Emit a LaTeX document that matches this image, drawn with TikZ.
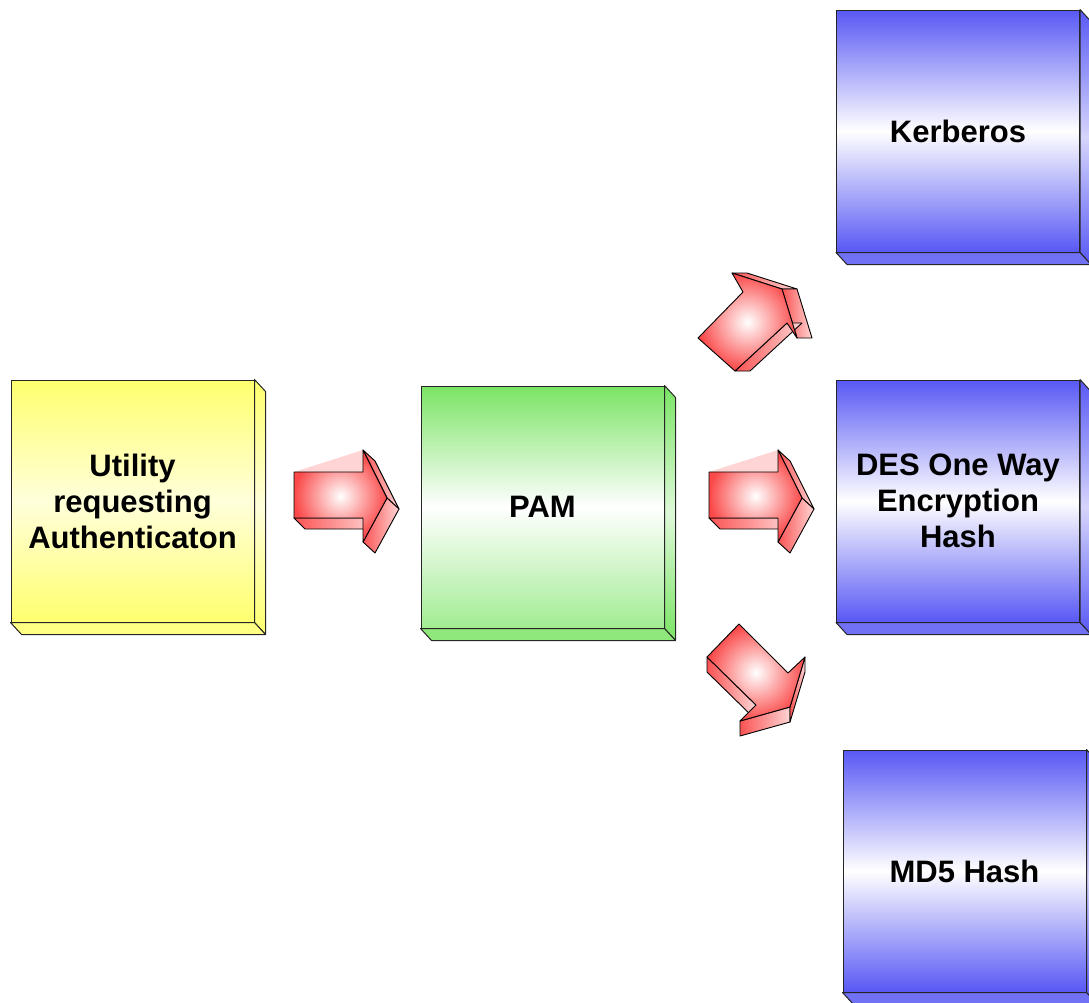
\documentclass[tikz,border=0pt]{standalone}
\usepackage{fontspec}
\setmainfont{Liberation Sans}
\usetikzlibrary{calc}

\definecolor{utilyellow}{RGB}{255,255,110}
\definecolor{pamgreen}{RGB}{122,228,100}
\definecolor{modblue}{RGB}{88,88,245}
\definecolor{arrowred}{RGB}{250,40,40}

\tikzset{
  box/.style={draw=black!85, line width=1pt, minimum width=243pt, minimum height=242pt,
    inner sep=0pt, align=center, font=\bfseries\fontsize{31}{36}\selectfont},
  yellowbox/.style={box, top color=utilyellow, bottom color=utilyellow, middle color=utilyellow!25},
  greenbox/.style={box, top color=pamgreen, bottom color=pamgreen!70, middle color=white},
  bluebox/.style={box, top color=modblue, bottom color=modblue, middle color=white},
  depth/.style={draw=black!85, line width=1pt, line join=round},
  arrowfront/.style={draw=black, line width=0.9pt, line join=round, inner color=white, outer color=arrowred!85},
  arrowside/.style={draw=black, line width=0.9pt, line join=round, left color=arrowred!80, right color=arrowred!20},
}

\begin{document}
\begin{tikzpicture}[x=1pt, y=-1pt]
\useasboundingbox (0,0) rectangle (1089,1002);

% the boxes
\node[yellowbox] (util) at (132.5,501) {Utility\\requesting\\Authenticaton};
\node[greenbox] (pam) at (542.5,507) {PAM};
\node[bluebox] (kerb) at (958,131) {Kerberos};
\node[bluebox] (des) at (958,501) {DES One Way\\Encryption\\Hash};
\node[bluebox] (md5) at (964.5,871) {MD5 Hash};

% side and bottom faces
\foreach \n/\c in {util/utilyellow, pam/pamgreen, kerb/modblue, des/modblue, md5/modblue} {
  \draw[depth, top color=\c, bottom color=\c, middle color=\c!25]
    (\n.north east) -- ++(11,12) -- ($(\n.south east)+(11,12)$) -- (\n.south east) -- cycle;
  \draw[depth, fill=\c!85]
    (\n.south west) -- ++(11,12) -- ($(\n.south east)+(11,12)$) -- (\n.south east) -- cycle;
}

% arrows pointing right
\foreach \dx in {0,415} {
\begin{scope}[xshift=\dx]
  \fill[arrowred!20] (294,472) -- (363,450) -- (363,472) -- cycle;
  \draw[arrowside] (294,518) -- (363,518) -- (375,529) -- (305,529) -- cycle;
  \draw[arrowside] (363,450) -- (375,461) -- (399,509) -- (387,498) -- cycle;
  \draw[arrowside] (387,498) -- (399,509) -- (375,553) -- (363,542) -- cycle;
  \draw[arrowfront] (294,472) -- (363,472) -- (363,450) -- (387,498) -- (363,542)
    -- (363,518) -- (294,518) -- cycle;
\end{scope}
}

% arrow up to kerberos
\draw[arrowside] (732,273) -- (782,289) -- (797,289) -- (747,273) -- cycle;
\draw[arrowside] (782,289) -- (797,289) -- (812,338) -- (797,338) -- cycle;
\draw[arrowside] (787,323) -- (802,323) -- (750,371) -- (735,371) -- cycle;
\draw[arrowfront] (698,338) -- (743,292) -- (732,273) -- (782,289) -- (797,338)
  -- (787,323) -- (735,371) -- cycle;

% arrow down to md5
\draw[arrowside] (707,657) -- (756,705) -- (756,720) -- (707,672) -- cycle;
\draw[arrowside] (740,721) -- (790,707) -- (790,722) -- (740,736) -- cycle;
\draw[arrowside] (790,707) -- (805,657) -- (805,672) -- (790,722) -- cycle;
\draw[arrowfront] (739,624) -- (788,673) -- (805,657) -- (790,707) -- (740,721)
  -- (756,705) -- (707,657) -- cycle;

\end{tikzpicture}
\end{document}
